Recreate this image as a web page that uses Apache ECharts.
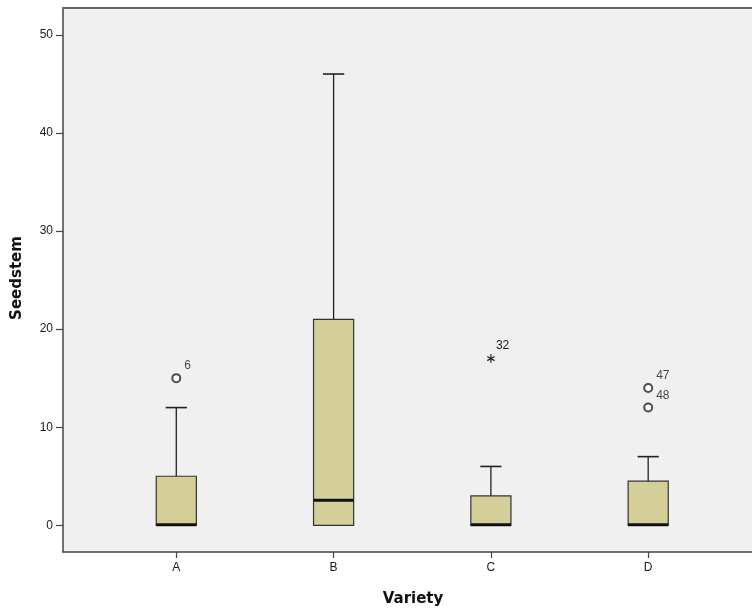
<!DOCTYPE html>
<html>
<head>
<meta charset="utf-8">
<script src="https://cdn.jsdelivr.net/npm/echarts@6/dist/echarts.min.js"></script>
<style>
html,body{margin:0;padding:0;background:#fff;}
#chart{width:752px;height:613px;}
</style>
</head>
<body>
<div id="chart"></div>
<script>
// ---- data ----
const categories = ['A', 'B', 'C', 'D'];
const boxMin    = [0, 0, 0, 0];
const boxQ1     = [0, 0, 0, 0];
const boxMedian = [0, 2.5, 0, 0];
const boxQ3     = [5, 21, 3, 4.5];
const boxMax    = [12, 46, 6, 7];

const outlierCat = ['A', 'D', 'D'];
const outlierVal = [15, 14, 12];
const outlierId  = ['6', '47', '48'];

const extremeCat = ['C'];
const extremeVal = [17];
const extremeId  = ['32'];

const yTicks = [0, 10, 20, 30, 40, 50];

// ---- build ----
const catPos = c => categories.indexOf(c) + 1;
const xTicks = categories.map((c, i) => i + 1);
const boxData = categories.map((c, i) => [i + 1, boxMin[i], boxQ1[i], boxMedian[i], boxQ3[i], boxMax[i]]);
const outlierData = outlierCat.map((c, i) => [catPos(c), outlierVal[i], outlierId[i]]);
const extremeData = extremeCat.map((c, i) => [catPos(c), extremeVal[i], extremeId[i]]);

const LINE = '#222';
const FONT = '"Liberation Sans", Arial, sans-serif';
const X_MIN = 0.2797, X_MAX = 4.660;

const chart = echarts.init(document.getElementById('chart'), null, {renderer: 'canvas'});

const option = {
  animation: false,
  backgroundColor: '#ffffff',
  grid: {
    left: 63, top: 8, right: 0, bottom: 61,
    show: true, backgroundColor: '#F0F0F0', borderWidth: 0
  },
  xAxis: [{
    type: 'value',
    min: X_MIN, max: X_MAX,
    axisLine: {show: true, onZero: false, lineStyle: {color: '#444', width: 1.5}},
    axisTick: {show: true, customValues: xTicks, length: 6, lineStyle: {color: '#444', width: 1.2}},
    axisLabel: {
      customValues: xTicks, margin: 10, color: '#1a1a1a', fontSize: 12, fontFamily: FONT,
      formatter: v => categories[Math.round(v) - 1] || ''
    },
    splitLine: {show: false}
  }, {
    type: 'value', position: 'top',
    min: X_MIN, max: X_MAX,
    axisLine: {show: true, onZero: false, lineStyle: {color: '#666', width: 2}},
    axisTick: {show: false}, axisLabel: {show: false}, splitLine: {show: false}
  }],
  yAxis: {
    type: 'value',
    min: -2.72, max: 52.73,
    axisLine: {show: true, onZero: false, lineStyle: {color: '#444', width: 1.5}},
    axisTick: {show: true, customValues: yTicks, length: 7, lineStyle: {color: '#444', width: 1.2}},
    axisLabel: {customValues: yTicks, margin: 10, color: '#1a1a1a', fontSize: 12, fontFamily: FONT},
    splitLine: {show: false}
  },
  graphic: [
    {type: 'text', x: 413, y: 599, style: {text: 'Variety', font: 'bold 15px "DejaVu Sans", sans-serif', fill: '#111', align: 'center', verticalAlign: 'middle'}},
    {type: 'text', x: 17, y: 278, rotation: Math.PI / 2, style: {text: 'Seedstem', font: 'bold 15px "DejaVu Sans", sans-serif', fill: '#111', align: 'center', verticalAlign: 'middle'}}
  ],
  series: [
    {
      type: 'custom',
      clip: false,
      data: boxData,
      encode: {x: 0, y: [1, 2, 3, 4, 5]},
      renderItem: function (params, api) {
        const x = api.value(0);
        const pMin = api.coord([x, api.value(1)]);
        const pQ1 = api.coord([x, api.value(2)]);
        const pMed = api.coord([x, api.value(3)]);
        const pQ3 = api.coord([x, api.value(4)]);
        const pMax = api.coord([x, api.value(5)]);
        const bw = api.size([0.255, 0])[0];
        const cw = api.size([0.135, 0])[0];
        const cx = pQ1[0];
        const children = [];
        children.push({type: 'line', shape: {x1: cx, y1: pQ3[1], x2: cx, y2: pMax[1]}, style: {stroke: LINE, lineWidth: 1.3}});
        children.push({type: 'line', shape: {x1: cx - cw / 2, y1: pMax[1], x2: cx + cw / 2, y2: pMax[1]}, style: {stroke: LINE, lineWidth: 1.6}});
        if (api.value(1) < api.value(2)) {
          children.push({type: 'line', shape: {x1: cx, y1: pQ1[1], x2: cx, y2: pMin[1]}, style: {stroke: LINE, lineWidth: 1.3}});
          children.push({type: 'line', shape: {x1: cx - cw / 2, y1: pMin[1], x2: cx + cw / 2, y2: pMin[1]}, style: {stroke: LINE, lineWidth: 1.6}});
        }
        children.push({type: 'rect', shape: {x: cx - bw / 2, y: pQ3[1], width: bw, height: pQ1[1] - pQ3[1]}, style: {fill: '#D4CF98', stroke: '#333', lineWidth: 1.2}});
        children.push({type: 'line', shape: {x1: cx - bw / 2, y1: pMed[1] - 0.5, x2: cx + bw / 2, y2: pMed[1] - 0.5}, style: {stroke: '#111', lineWidth: 3}});
        return {type: 'group', children: children};
      }
    },
    {
      type: 'scatter',
      data: outlierData,
      symbol: 'emptyCircle',
      symbolSize: 8,
      itemStyle: {color: '#222', borderWidth: 1},
      label: {
        show: true, position: 'right', distance: 3, offset: [0, -12],
        formatter: p => p.value[2], color: '#1a1a1a', fontSize: 12, fontFamily: FONT
      },
      z: 5
    },
    {
      type: 'custom',
      clip: false,
      data: extremeData,
      encode: {x: 0, y: 1},
      renderItem: function (params, api) {
        const p = api.coord([api.value(0), api.value(1)]);
        const r = 4.2;
        const children = [];
        for (let k = 0; k < 3; k++) {
          const a = Math.PI / 2 + k * Math.PI / 3;
          children.push({type: 'line', shape: {x1: p[0] - r * Math.cos(a), y1: p[1] - r * Math.sin(a), x2: p[0] + r * Math.cos(a), y2: p[1] + r * Math.sin(a)}, style: {stroke: '#222', lineWidth: 1.2}});
        }
        children.push({type: 'text', x: p[0] + 5, y: p[1] - 13, style: {text: extremeId[params.dataIndex], fill: '#1a1a1a', font: '12px ' + FONT, align: 'left', verticalAlign: 'middle'}});
        return {type: 'group', children: children};
      },
      z: 5
    }
  ]
};
chart.setOption(option);
</script>
</body>
</html>
